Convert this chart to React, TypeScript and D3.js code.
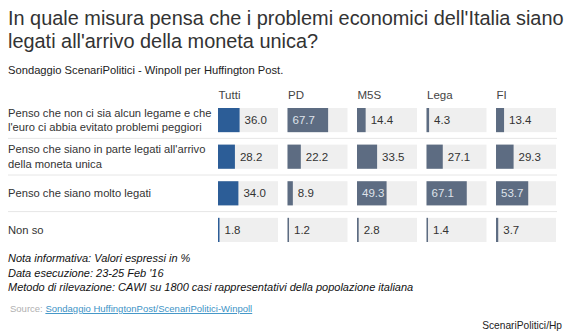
import React from "react";
import * as d3 from "d3";

const categories: string[][] = [
  ["Penso che non ci sia alcun legame e che", "l'euro ci abbia evitato problemi peggiori"],
  ["Penso che siano in parte legati all'arrivo", "della moneta unica"],
  ["Penso che siano molto legati"],
  ["Non so"],
];
const seriesNames = ["Tutti", "PD", "M5S", "Lega", "FI"];
const tutti = [36.0, 28.2, 34.0, 1.8];
const pd = [67.7, 22.2, 8.9, 1.2];
const m5s = [14.4, 33.5, 49.3, 2.8];
const lega = [4.3, 27.1, 67.1, 1.4];
const fi = [13.4, 29.3, 53.7, 3.7];
const seriesValues = [tutti, pd, m5s, lega, fi];

const title = ["In quale misura pensa che i problemi economici dell'Italia siano", "legati all'arrivo della moneta unica?"];
const subtitle = "Sondaggio ScenariPolitici - Winpoll per Huffington Post.";
const notes = [
  "Nota informativa: Valori espressi in %",
  "Data esecuzione: 23-25 Feb '16",
  "Metodo di rilevazione: CAWI su 1800 casi rappresentativi della popolazione italiana",
];
const sourceLink = "Sondaggio HuffingtonPost/ScenariPolitici-Winpoll";
const credit = "ScenariPolitici/Hp";

const W = 570;
const H = 335;
const FONT = "'Liberation Sans', Arial, Helvetica, sans-serif";

export default function App() {
  const colX = d3.scaleBand<string>().domain(seriesNames).range([218, 556]).paddingInner(0.137).paddingOuter(0);
  const rowY = d3.scaleBand<number>().domain(d3.range(categories.length)).range([108, 242]).paddingInner(0.34).paddingOuter(0);
  const boxW = colX.bandwidth();
  const x = d3.scaleLinear().domain([0, 100]).range([0, boxW]);
  const step = rowY.step();

  return (
    <svg width={W} height={H} style={{ position: "absolute", left: 0, top: 0, background: "#fff" }} fontFamily={FONT}>
      {title.map((t, i) => (
        <text key={i} x={8} y={25 + i * 23} fontSize={19.9} fill="#333" fontWeight={300}>{t}</text>
      ))}
      <text x={8} y={74} fontSize={11.2} fill="#222">{subtitle}</text>

      {seriesNames.map((s) => (
        <text key={s} x={(colX(s) as number) + 0.5} y={99} fontSize={11.5} fill="#444">{s}</text>
      ))}

      {categories.map((lines, r) => {
        const y0 = rowY(r) as number;
        const h = rowY.bandwidth();
        const cy = y0 + h / 2;
        return (
          <g key={r}>
            {lines.map((l, i) => (
              <text key={i} x={8} y={cy + 4 + (i - (lines.length - 1) / 2) * 14.5} fontSize={11.2} fill="#333">{l}</text>
            ))}
            {r < categories.length - 1 && (
              <line x1={8} x2={557} y1={y0 + h + (step - h) / 2} y2={y0 + h + (step - h) / 2} stroke="#e6e6e6" strokeWidth={1} />
            )}
            {seriesNames.map((s, c) => {
              const v = seriesValues[c][r];
              const bx = colX(s) as number;
              const bw = Math.max(x(v), 1.5);
              const inside = v > 40;
              const color = c === 0 ? "#2c5d97" : "#5d6c82";
              return (
                <g key={s}>
                  <rect x={bx} y={y0} width={boxW} height={h} fill="#efefef" />
                  <rect x={bx} y={y0} width={bw} height={h} fill={color} />
                  <text x={inside ? bx + 5 : bx + bw + 5} y={cy + 4} fontSize={11.5} fill={inside ? "#dfe3ea" : "#333"}>
                    {v.toFixed(1)}
                  </text>
                </g>
              );
            })}
          </g>
        );
      })}

      {notes.map((n, i) => (
        <text key={i} x={8} y={262 + i * 14.5} fontSize={11} fontStyle="italic" fill="#111">{n}</text>
      ))}
      <text x={10} y={312} fontSize={9.5} fill="#b0b0b0">
        Source: <tspan fill="#3d93c6" textDecoration="underline">{sourceLink}</tspan>
      </text>
      <text x={562} y={329} fontSize={10.2} fill="#222" textAnchor="end">{credit}</text>
    </svg>
  );
}
